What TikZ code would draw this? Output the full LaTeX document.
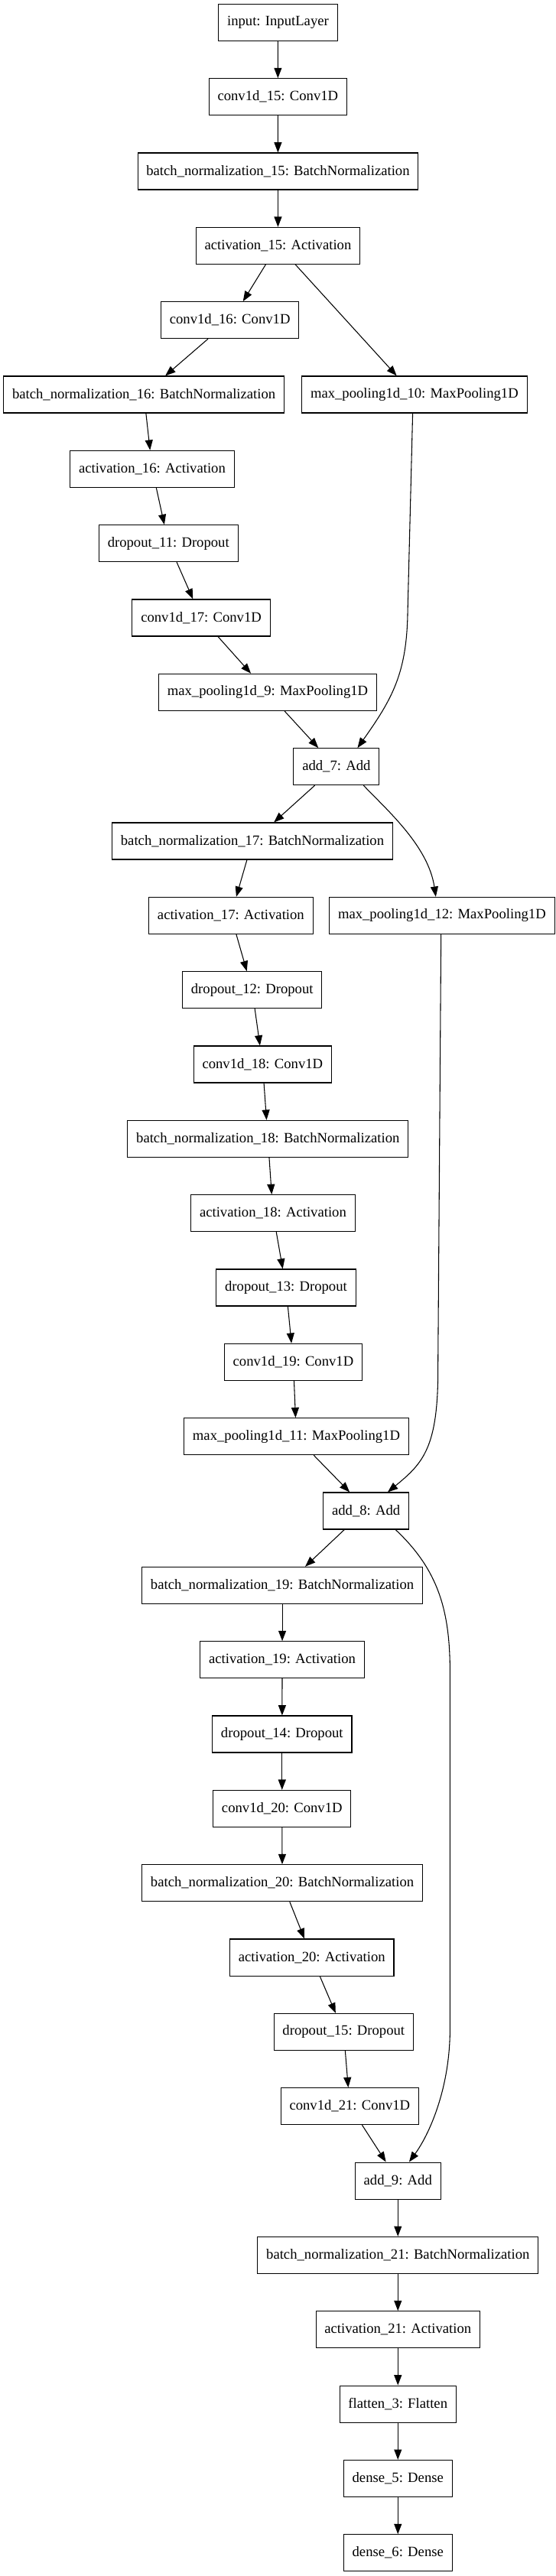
\documentclass[tikz,border=0pt]{standalone}
\usepackage{fontspec}
\setmainfont{Liberation Serif}
\usetikzlibrary{arrows.meta}

\tikzset{
  layer/.style={draw=black, line width=0.8pt, rectangle, minimum height=36pt,
    inner xsep=8.5pt, inner ysep=0pt, font=\fontsize{14pt}{17pt}\selectfont},
  link/.style={line width=0.8pt, -{Triangle[length=10pt,width=7.5pt]}}
}

\begin{document}
\begin{tikzpicture}[x=1pt,y=1pt]

    % page frame
    \useasboundingbox (0,0) rectangle (544.5,-2526.75);

    %%%%%%%%%%%%%%%%%%%%%%%%%%
    % first block
    %%%%%%%%%%%%%%%%%%%%%%%%%%
    \node[layer] (input)  at (272.6,{-22-73*0}) {input: InputLayer};
    \node[layer] (conv15) at (272.5,{-22-73*1}) {conv1d\_15: Conv1D};
    \node[layer] (bn15)   at (272.6,{-22-73*2}) {batch\_normalization\_15: BatchNormalization};
    \node[layer] (act15)  at (272.6,{-22-73*3}) {activation\_15: Activation};
    \node[layer] (conv16) at (225.5,{-22-73*4}) {conv1d\_16: Conv1D};
    \node[layer] (bn16)   at (141.1,{-22-73*5}) {batch\_normalization\_16: BatchNormalization};
    \node[layer] (mp10)   at (406.4,{-22-73*5}) {max\_pooling1d\_10: MaxPooling1D};
    \node[layer] (act16)  at (149.2,{-22-73*6}) {activation\_16: Activation};
    \node[layer] (drop11) at (165.2,{-22-73*7}) {dropout\_11: Dropout};
    \node[layer] (conv17) at (197.3,{-22-73*8}) {conv1d\_17: Conv1D};
    \node[layer] (mp9)    at (262.5,{-22-73*9}) {max\_pooling1d\_9: MaxPooling1D};
    \node[layer] (add7)   at (329.9,{-22-73*10}) {add\_7: Add};

    %%%%%%%%%%%%%%%%%%%%%%%%%%
    % second block
    %%%%%%%%%%%%%%%%%%%%%%%%%%
    \node[layer] (bn17)   at (247.5,{-22-73*11}) {batch\_normalization\_17: BatchNormalization};
    \node[layer] (act17)  at (226.4,{-22-73*12}) {activation\_17: Activation};
    \node[layer] (mp12)   at (433.4,{-22-73*12}) {max\_pooling1d\_12: MaxPooling1D};
    \node[layer] (drop12) at (247.3,{-22-73*13}) {dropout\_12: Dropout};
    \node[layer] (conv18) at (257.5,{-22-73*14}) {conv1d\_18: Conv1D};
    \node[layer] (bn18)   at (262.7,{-22-73*15}) {batch\_normalization\_18: BatchNormalization};
    \node[layer] (act18)  at (267.7,{-22-73*16}) {activation\_18: Activation};
    \node[layer] (drop13) at (280.5,{-22-73*17}) {dropout\_13: Dropout};
    \node[layer] (conv19) at (287.6,{-22-73*18}) {conv1d\_19: Conv1D};
    \node[layer] (mp11)   at (290.6,{-22-73*19}) {max\_pooling1d\_11: MaxPooling1D};
    \node[layer] (add8)   at (359.0,{-22-73*20}) {add\_8: Add};

    %%%%%%%%%%%%%%%%%%%%%%%%%%
    % third block
    %%%%%%%%%%%%%%%%%%%%%%%%%%
    \node[layer] (bn19)   at (276.8,{-22-73*21}) {batch\_normalization\_19: BatchNormalization};
    \node[layer] (act19)  at (276.8,{-22-73*22}) {activation\_19: Activation};
    \node[layer] (drop14) at (276.6,{-22-73*23}) {dropout\_14: Dropout};
    \node[layer] (conv20) at (276.6,{-22-73*24}) {conv1d\_20: Conv1D};
    \node[layer] (bn20)   at (276.8,{-22-73*25}) {batch\_normalization\_20: BatchNormalization};
    \node[layer] (act20)  at (305.8,{-22-73*26}) {activation\_20: Activation};
    \node[layer] (drop15) at (337.0,{-22-73*27}) {dropout\_15: Dropout};
    \node[layer] (conv21) at (343.0,{-22-73*28}) {conv1d\_21: Conv1D};
    \node[layer] (add9)   at (390.2,{-22-73*29}) {add\_9: Add};

    %%%%%%%%%%%%%%%%%%%%%%%%%%
    % head
    %%%%%%%%%%%%%%%%%%%%%%%%%%
    \node[layer] (bn21)   at (390.2,{-22-73*30}) {batch\_normalization\_21: BatchNormalization};
    \node[layer] (act21)  at (390.2,{-22-73*31}) {activation\_21: Activation};
    \node[layer] (flat3)  at (390.2,{-22-73*32}) {flatten\_3: Flatten};
    \node[layer] (dense5) at (390.2,{-22-73*33}) {dense\_5: Dense};
    \node[layer] (dense6) at (390.2,{-22-73*34}) {dense\_6: Dense};

    % main chain
    \foreach \a/\b in {input/conv15, conv15/bn15, bn15/act15, bn16/act16,
        act16/drop11, drop11/conv17, conv17/mp9, bn17/act17, act17/drop12,
        drop12/conv18, conv18/bn18, bn18/act18, act18/drop13, drop13/conv19,
        conv19/mp11, bn19/act19, act19/drop14, drop14/conv20, conv20/bn20,
        bn20/act20, act20/drop15, drop15/conv21, add9/bn21, bn21/act21,
        act21/flat3, flat3/dense5, dense5/dense6}
        \draw[link] (\a) -- (\b);

    % forks
    \draw[link] ([xshift=-12pt]act15.south) -- ([xshift=12.8pt]conv16.north);
    \draw[link] ([xshift=17pt]act15.south) -- ([xshift=-17.4pt]mp10.north);
    \draw[link] ([xshift=-21.5pt]conv16.south) -- ([xshift=21pt]bn16.north);
    \draw[link] ([xshift=-21.2pt]add7.south) -- ([xshift=21.1pt]bn17.north);
    \draw[link] ([xshift=-21.3pt]add8.south) -- ([xshift=22.5pt]bn19.north);

    % joins
    \draw[link] ([xshift=16.5pt]mp9.south) -- ([xshift=-17.7pt]add7.north);
    \draw[link] ([xshift=17.1pt]mp11.south) -- ([xshift=-16.1pt]add8.north);
    \draw[link] ([xshift=12.1pt]conv21.south) -- ([xshift=-11.7pt]add9.north);

    % skip connections
    \coordinate (skipA) at (399.8,-600);
    \coordinate (skipB) at (429.5,-1340);
    \coordinate (skipC) at (441.3,-1640);
    \coordinate (skipD) at (441.3,-1990);
    \draw[link] ([xshift=-1.7pt]mp10.south) -- (skipA)
        .. controls (399,-660) and (385,-685) .. ([xshift=20.7pt]add7.north);
    \draw[link] ([xshift=26.6pt]add7.south)
        .. controls (380,-795) and (420,-830) .. ([xshift=-6pt]mp12.north);
    \draw[link] ([xshift=-0.9pt]mp12.south) -- (skipB)
        .. controls (430,-1420) and (415,-1435) .. ([xshift=21.2pt]add8.north);
    \draw[link] ([xshift=28.9pt]add8.south)
        .. controls (430,-1540) and (441.3,-1580) .. (skipC) -- (skipD)
        .. controls (441.3,-2050) and (420,-2095) .. ([xshift=11pt]add9.north);

\end{tikzpicture}
\end{document}
